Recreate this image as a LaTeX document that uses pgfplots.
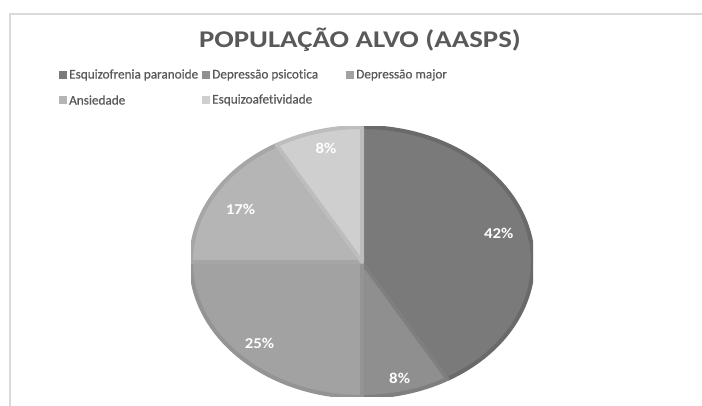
\documentclass[border=0pt]{standalone}
\usepackage{pgfplots}
\pgfplotsset{compat=1.18}
\usepackage{fontspec}
\setmainfont{Carlito}[Ligatures=NoCommon]
\newfontfamily\titlefont{Carlito}[FakeStretch=1.2, Ligatures=NoCommon]
\newfontfamily\legfont{Carlito}[FakeBold=0.6, Ligatures=NoCommon]
\newfontfamily\labfont{Carlito}[FakeStretch=1.12, Ligatures=NoCommon]
\definecolor{txt}{HTML}{595959}
\definecolor{frame}{HTML}{D9D9D9}
\definecolor{c1}{HTML}{7A7A7A}\definecolor{b1}{HTML}{6A6A6A}
\definecolor{c2}{HTML}{8F8F8F}\definecolor{b2}{HTML}{7F7F7F}
\definecolor{c3}{HTML}{A2A2A2}\definecolor{b3}{HTML}{949494}
\definecolor{c4}{HTML}{B5B5B5}\definecolor{b4}{HTML}{A6A6A6}
\definecolor{c5}{HTML}{CFCFCF}\definecolor{b5}{HTML}{BDBDBD}
\begin{document}
\begin{tikzpicture}
\useasboundingbox (0,0) rectangle (702pt,406pt);
\draw[frame, line width=1.5pt] (10pt,0) -- (10pt,392pt) -- (702pt,392pt);
% title
\node[font=\titlefont\bfseries\fontsize{24}{28}\selectfont, text=txt] at (360pt,366.5pt) {POPULAÇÃO ALVO (AASPS)};
% legend
\begin{scope}[every node/.style={font=\legfont\fontsize{13.2}{16}\selectfont, text=txt, anchor=west, inner sep=0pt}]
\fill[c1] (59pt,327pt) rectangle ++(8pt,8pt); \node at (69pt,331pt) {Esquizofrenia paranoide};
\fill[c2] (202pt,327pt) rectangle ++(8pt,8pt); \node at (212pt,331pt) {Depressão psicotica};
\fill[c3] (346pt,327pt) rectangle ++(8pt,8pt); \node at (356pt,331pt) {Depressão major};
\fill[c4] (59pt,302pt) rectangle ++(8pt,8pt); \node at (69pt,306pt) {Ansiedade};
\fill[c5] (202pt,302pt) rectangle ++(8pt,8pt); \node at (212pt,306pt) {Esquizoafetividade};
\end{scope}
\begin{axis}[hide axis, scale only axis, width=342pt, height=270pt,
  xmin=-1, xmax=1, ymin=-1, ymax=1, at={(362pt,144pt)}, anchor=center]
\gdef\cum{0}
\foreach \v/\col/\bcol/\lab/\r in {5/c1/b1/42/0.82, 1/c2/b2/8/0.88, 3/c3/b3/25/0.85, 2/c4/b4/17/0.80, 1/c5/b5/8/0.86}{
  \pgfmathsetmacro\a{\cum/12*360}
  \pgfmathsetmacro\b{(\cum+\v)/12*360}
  \pgfmathsetmacro\sa{sin(\a)}\pgfmathsetmacro\ca{cos(\a)}
  \pgfmathsetmacro\st{90-\a}\pgfmathsetmacro\en{90-\b}
  \edef\temp{\noexpand\filldraw[fill=\col, draw=\bcol, line width=4pt, line join=round]
    (axis cs:0,0) -- (axis cs:\sa,\ca) arc[start angle=\st, end angle=\en, x radius=171pt, y radius=135pt] -- cycle;}
  \temp
  \pgfmathsetmacro\nc{\cum+\v}\xdef\cum{\nc}
}
\foreach \lab/\x/\y in {42/0.80/0.21, 8/0.22/-0.86, 25/-0.60/-0.60, 17/-0.71/0.39, 8/-0.21/0.84}{
  \edef\temp{\noexpand\node[text=white, font=\noexpand\labfont\noexpand\bfseries\noexpand\fontsize{15}{18}\noexpand\selectfont] at (axis cs:\x,\y) {\lab\noexpand\%};}
  \temp
}
\end{axis}
\end{tikzpicture}
\end{document}
